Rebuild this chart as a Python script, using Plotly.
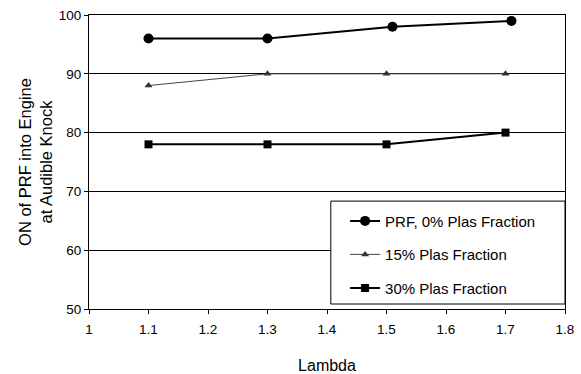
import plotly.graph_objects as go

lam_prf = [1.1, 1.3, 1.51, 1.71]
on_prf = [96, 96, 98, 99]
lam_15 = [1.1, 1.3, 1.5, 1.7]
on_15 = [88, 90, 90, 90]
lam_30 = [1.1, 1.3, 1.5, 1.7]
on_30 = [78, 78, 78, 80]
names = ["PRF, 0% Plas Fraction", "15% Plas Fraction", "30% Plas Fraction"]

fig = go.Figure()
fig.add_trace(go.Scatter(x=lam_prf, y=on_prf, name=names[0], mode="lines+markers",
                         line=dict(color="black", width=2),
                         marker=dict(symbol="circle", size=10, color="black"),
                         legendgroup="a"))
fig.add_trace(go.Scatter(x=lam_15, y=on_15, name=names[1], mode="lines+markers",
                         line=dict(color="#444444", width=1),
                         marker=dict(symbol="triangle-up", size=7, color="#333333"),
                         legendgroup="b"))
fig.add_trace(go.Scatter(x=lam_30, y=on_30, name=names[2], mode="lines+markers",
                         line=dict(color="black", width=2),
                         marker=dict(symbol="square", size=8, color="black"),
                         legendgroup="c"))

# legend frame (white box with border, reaching the plot's right edge)
fig.add_shape(type="rect", xref="paper", yref="paper",
              x0=0.508, x1=1.0, y0=0.017, y1=0.367,
              line=dict(color="black", width=1), fillcolor="white", layer="above")

fig.update_layout(
    width=581, height=374,
    margin=dict(l=89, r=16, t=15, b=65),
    paper_bgcolor="white", plot_bgcolor="white",
    font=dict(family="Liberation Sans, Arial, sans-serif", size=13.5, color="black"),
    showlegend=True,
    legend=dict(x=0.538, y=0.355, xanchor="left", yanchor="top",
                borderwidth=0, bgcolor="rgba(0,0,0,0)",
                traceorder="grouped", tracegroupgap=11,
                font=dict(size=15)),
    xaxis=dict(range=[1, 1.8], dtick=0.1, tick0=1, showgrid=False, automargin=False,
               showline=True, linecolor="black", linewidth=1, mirror=True,
               ticks="outside", ticklen=4, tickcolor="black", ticklabelstandoff=4,
               tickformat="~g", zeroline=False,
               title=dict(text="Lambda", standoff=27, font=dict(size=16))),
    yaxis=dict(range=[50, 100], dtick=10, showgrid=True, gridcolor="black", gridwidth=1,
               automargin=False,
               showline=True, linecolor="black", linewidth=1, mirror=True,
               ticks="outside", ticklen=4, tickcolor="black", zeroline=False,
               title=dict(text="ON of PRF into Engine<br>at Audible Knock", standoff=1,
                          font=dict(size=16.5))),
)

fig.write_html("out.html")
